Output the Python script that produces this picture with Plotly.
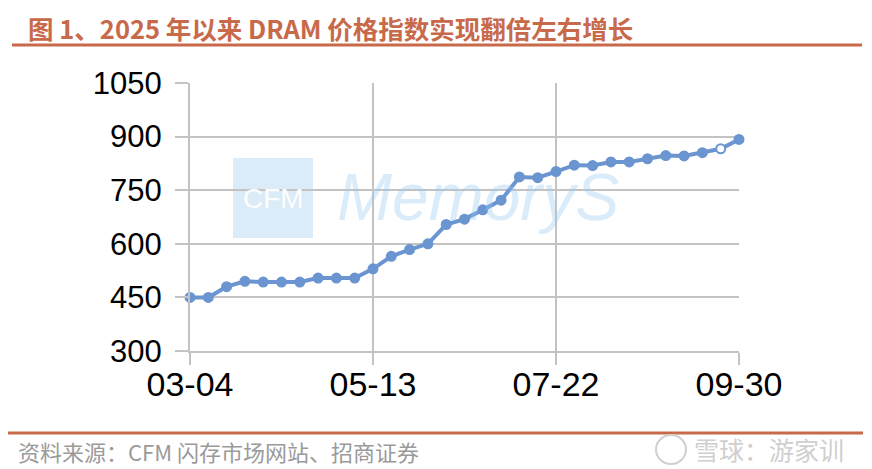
import plotly.graph_objects as go

dates = ["2025-03-04", "2025-03-11", "2025-03-18", "2025-03-25", "2025-04-01", "2025-04-08",
         "2025-04-15", "2025-04-22", "2025-04-29", "2025-05-06", "2025-05-13", "2025-05-20",
         "2025-05-27", "2025-06-03", "2025-06-10", "2025-06-17", "2025-06-24", "2025-07-01",
         "2025-07-08", "2025-07-15", "2025-07-22", "2025-07-29", "2025-08-05", "2025-08-12",
         "2025-08-19", "2025-08-26", "2025-09-02", "2025-09-09", "2025-09-16", "2025-09-23",
         "2025-09-30"]
dram_index = [450, 450, 480, 495, 493, 493, 493, 504, 504, 504, 530,
              565, 584, 600, 654, 669, 695, 722, 787, 785, 802,
              820, 819, 829, 829, 838, 847, 846, 855, 866, 892]

tick_dates = ["2025-03-04", "2025-05-13", "2025-07-22", "2025-09-30"]
tick_labels = ["03-04", "05-13", "07-22", "09-30"]
y_ticks = [300, 450, 600, 750, 900, 1050]

title_text = "图 1、2025 年以来 DRAM 价格指数实现翻倍左右增长"
source_text = "资料来源：CFM 闪存市场网站、招商证券"
brand_text = "雪球：游家训"

LINE = "#6b95d0"
GRID = "#c3c3c3"
ACCENT = "#c8694a"

marker_fill = [LINE] * len(dram_index)
marker_fill[-2] = "white"

fig = go.Figure()
fig.add_trace(go.Scatter(
    x=dates, y=dram_index, mode="lines+markers",
    line=dict(color=LINE, width=4),
    marker=dict(size=9, color=marker_fill, line=dict(color=LINE, width=2)),
    showlegend=False, cliponaxis=False,
))

OFF = 8  # page body margin
W, H = 872 - OFF, 469 - OFF
L, R, T, B = 190, 739, 83, 351  # plot area in page pixels


def xp(x):
    return (x - L) / (R - L)


def yp(y):
    return (B - y) / (B - T)


fig.update_layout(
    width=W, height=H,
    margin=dict(l=L - OFF, r=872 - R, t=T - OFF, b=469 - B, pad=0),
    paper_bgcolor="white", plot_bgcolor="white",
    font=dict(family="Liberation Sans, Arial, sans-serif", color="black"),
    xaxis=dict(
        type="date", range=["2025-03-04", "2025-09-30"],
        tickvals=tick_dates, ticktext=tick_labels,
        showgrid=True, gridcolor=GRID, gridwidth=2,
        showline=True, linecolor=GRID, linewidth=2,
        ticks="outside", ticklen=12, tickwidth=2, tickcolor=GRID,
        tickfont=dict(size=34, family="Liberation Sans, Arial, sans-serif"),
        ticklabelstandoff=-10,
        zeroline=False,
    ),
    yaxis=dict(
        range=[300, 1050], tickvals=y_ticks,
        showgrid=True, gridcolor=GRID, gridwidth=2,
        showline=True, linecolor=GRID, linewidth=2,
        ticks="outside", ticklen=13, tickwidth=2, tickcolor=GRID,
        tickfont=dict(size=31, family="Liberation Sans, Arial, sans-serif"),
        ticklabelstandoff=7,
        zeroline=False,
    ),
)

# watermark (CFM MemoryS)
fig.add_shape(type="rect", xref="paper", yref="paper",
              x0=xp(233), x1=xp(313), y0=yp(238), y1=yp(158),
              fillcolor="#dcebf8", line=dict(width=0), layer="below")
fig.add_annotation(xref="paper", yref="paper", x=xp(273), y=yp(198),
                   xanchor="center", yanchor="middle",
                   text="CFM", showarrow=False,
                   font=dict(size=28, color="rgba(255,255,255,0.95)", family="Liberation Sans, Arial"))
fig.add_annotation(xref="paper", yref="paper", x=xp(478), y=yp(197),
                   xanchor="center", yanchor="middle",
                   text="<i>MemoryS</i>", showarrow=False,
                   font=dict(size=66, color="rgba(150,200,240,0.35)", family="Liberation Sans, Arial"))

# title
fig.add_annotation(xref="paper", yref="paper", x=xp(26), y=yp(28),
                   xanchor="left", yanchor="middle", text="<b>" + title_text + "</b>",
                   showarrow=False,
                   font=dict(size=25.5, color=ACCENT, family="Noto Sans CJK SC"))
fig.add_shape(type="line", xref="paper", yref="paper",
              x0=xp(12), x1=xp(862), y0=yp(45), y1=yp(45),
              line=dict(color=ACCENT, width=3))

# footer
fig.add_shape(type="line", xref="paper", yref="paper",
              x0=xp(6), x1=xp(863), y0=yp(433), y1=yp(433),
              line=dict(color=ACCENT, width=3))
fig.add_annotation(xref="paper", yref="paper", x=xp(16), y=yp(451),
                   xanchor="left", yanchor="middle", text=source_text, showarrow=False,
                   font=dict(size=22, color="#9a9a9a", family="Noto Sans CJK SC"))
fig.add_shape(type="circle", xref="paper", yref="paper",
              x0=xp(656), x1=xp(686), y0=yp(464), y1=yp(435),
              line=dict(color="#d0d0d0", width=2))
fig.add_annotation(xref="paper", yref="paper", x=xp(846), y=yp(449),
                   xanchor="right", yanchor="middle", text=brand_text, showarrow=False,
                   font=dict(size=25, color="#cfcfcf", family="Noto Sans CJK SC"))

fig.write_html("out.html")
